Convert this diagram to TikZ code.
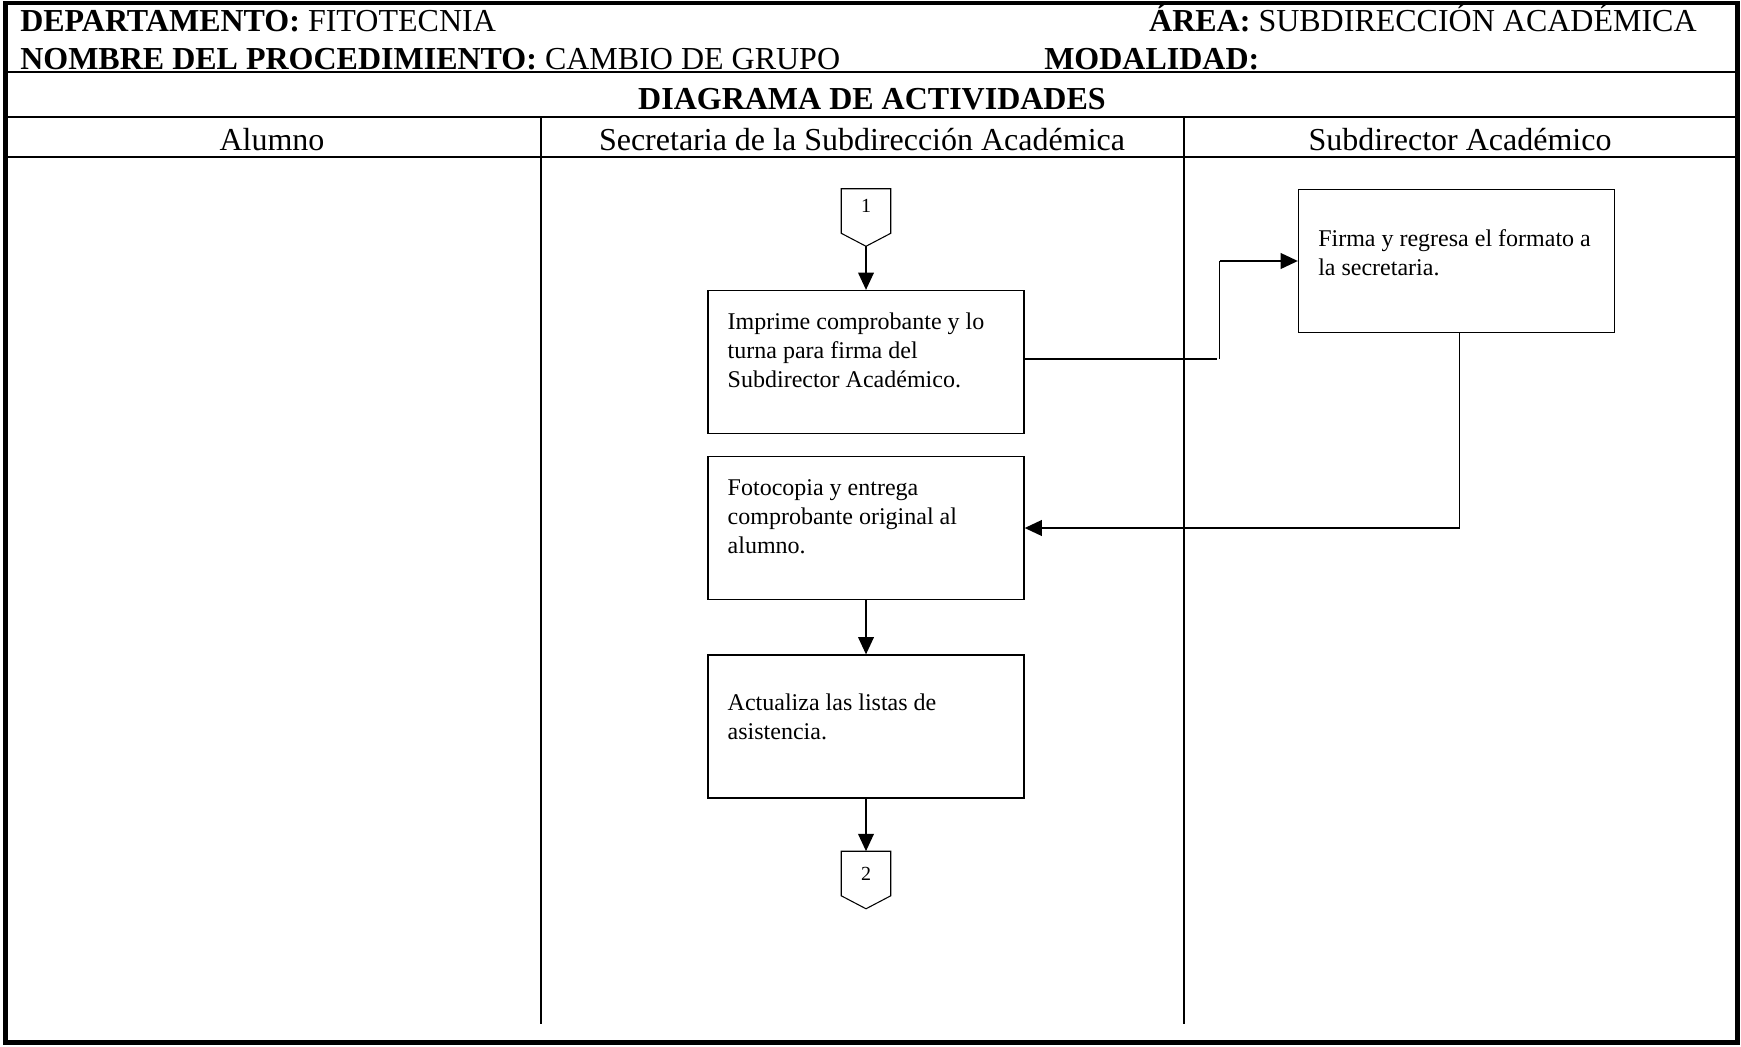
\documentclass[tikz,border=0pt]{standalone}
\usepackage{fontspec}
\setmainfont{Liberation Serif}
\usetikzlibrary{arrows.meta,calc}
\begin{document}
\begin{tikzpicture}[x=0.75pt,y=-0.75pt,
  hdr/.style={font=\fontsize{24}{28}\selectfont, inner sep=0pt, anchor=base west},
  lanehdr/.style={font=\fontsize{24}{28}\selectfont, inner sep=0pt, anchor=base},
  rule/.style={line width=1.6pt},
  frame/.style={line width=3.6pt},
  stepbox/.style={draw, line width=0.8pt, minimum width=237pt, minimum height=107.25pt, inner sep=0pt},
  boxtext/.style={font=\fontsize{18}{21.75}\selectfont, inner sep=0pt, anchor=north west, align=left},
  conn/.style={minimum width=36.75pt, minimum height=33pt, inner sep=0pt},
  connnum/.style={font=\fontsize{15}{18}\selectfont, inner sep=0pt},
  thinline/.style={line width=0.8pt},
  vflow/.style={line width=1.9pt, -{Triangle[length=13pt,width=11.5pt]}},
  hflow/.style={line width=2.2pt, -{Triangle[length=13pt,width=11.5pt]}}
]
\useasboundingbox (0,0) rectangle (1741,1046);
% frame
\draw[frame] (5.5,3) rectangle (1737.5,1042.5);
% header
\node[hdr] (dep) at (20,31) {\textbf{DEPARTAMENTO:} FITOTECNIA};
\node[hdr, anchor=base east] (area) at (1697,31) {\textbf{ÁREA:} SUBDIRECCIÓN ACADÉMICA};
\node[hdr] (nom) at (20,69) {\textbf{NOMBRE DEL PROCEDIMIENTO:} CAMBIO DE GRUPO};
\node[hdr] (mod) at (1044,69) {\textbf{MODALIDAD:}};
\draw[rule] (5,72) -- (1738,72);
\node[lanehdr] (diag) at (872,109) {\textbf{DIAGRAMA DE ACTIVIDADES}};
\draw[rule] (5,117) -- (1738,117);
\node[lanehdr] (l1) at (272,150) {Alumno};
\node[lanehdr] (l2) at (862,150) {Secretaria de la Subdirección Académica};
\node[lanehdr] (l3) at (1460,150) {Subdirector Académico};
\draw[rule] (5,157) -- (1738,157);
\draw[rule] (541,117) -- (541,1024);
\draw[rule] (1184,117) -- (1184,1024);
% connector 1
\node[conn] (c1) at (866,211) {};
\draw[thinline] (c1.north west) -- (c1.north east) -- (c1.south east) -- ($(c1.south)+(0,13)$) coordinate (c1tip) -- (c1.south west) -- cycle;
\node[connnum] (n1) at (866,206) {1};
% boxes
\node[stepbox] (b1) at (866,362) {};
\node[boxtext] (t1) at ($(b1.north west)+(20,23)$) {Imprime comprobante y lo\\turna para firma del\\Subdirector Académico.};
\node[stepbox] (b2) at (866,528) {};
\node[boxtext] (t2) at ($(b2.north west)+(20,23)$) {Fotocopia y entrega\\comprobante original al\\alumno.};
\node[stepbox] (b3) at (866,726.5) {};
\node[boxtext] (t3) at ($(b3.north west)+(20,39)$) {Actualiza las listas de\\asistencia.};
\node[stepbox] (b4) at (1456.5,261) {};
\node[boxtext] (t4) at ($(b4.north west)+(20,40)$) {Firma y regresa el formato a\\la secretaria.};
% connector 2
\node[conn] (c2) at (866,873.5) {};
\draw[thinline] (c2.north west) -- (c2.north east) -- (c2.south east) -- ($(c2.south)+(0,13)$) -- (c2.south west) -- cycle;
\node[connnum] (n2) at (866,874) {2};
% flows
\draw[vflow] (c1tip) -- (b1.north);
\draw[vflow] (b2.south) -- (b3.north);
\draw[vflow] (b3.south) -- (c2.north);
\draw[thinline] ($(b1.east)+(0,-3)$) -- ++(192,0) coordinate (k1);
\draw[thinline] ($(k1)+(3,0)$) coordinate (k1b) -- (k1b |- b4.west) coordinate (k2);
\draw[hflow] (k2) -- (b4.west);
\draw[thinline] ($(b4.south)+(3,0)$) coordinate (r0) -- (r0 |- b2.east) coordinate (r1);
\draw[hflow] (r1) -- (b2.east);
\end{tikzpicture}
\end{document}
